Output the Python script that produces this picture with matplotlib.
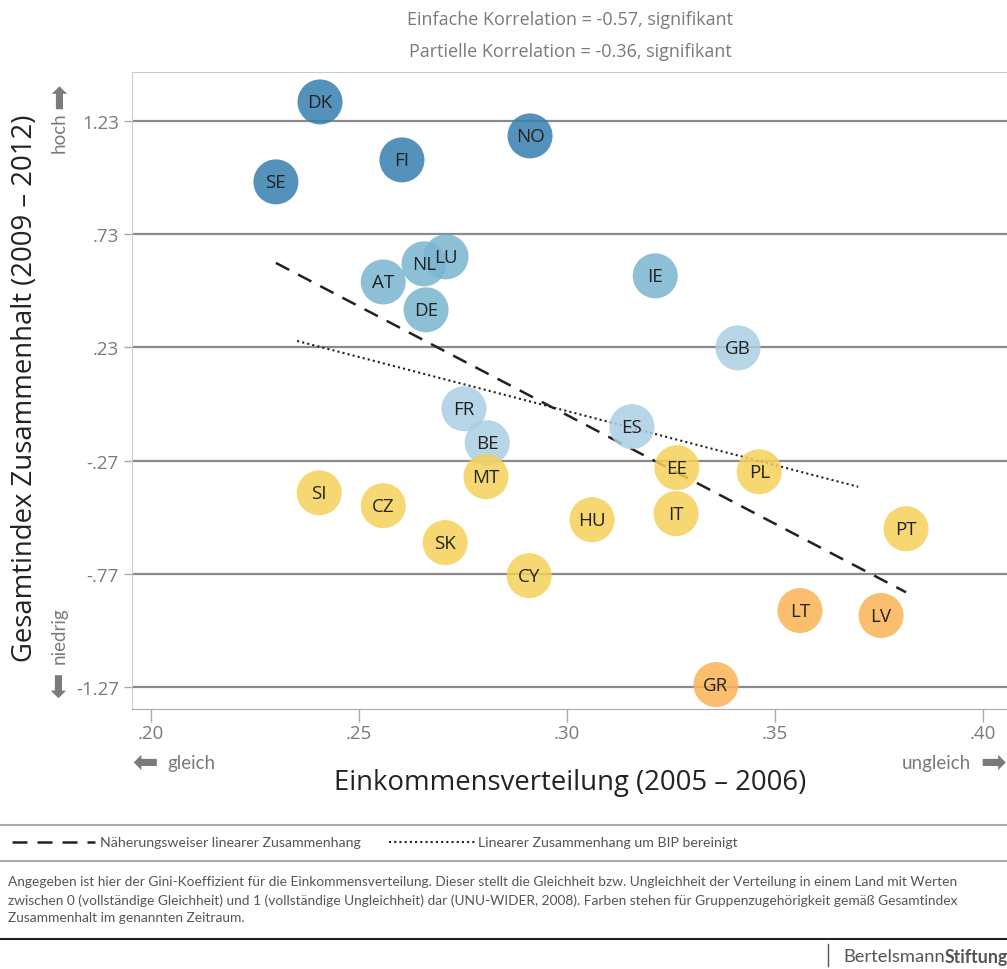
import matplotlib
matplotlib.use("Agg")
import matplotlib.pyplot as plt
from matplotlib.lines import Line2D

# Ländercodes, Gini-Koeffizient (x) und Gesamtindex Zusammenhalt (y)
laender = ['DK', 'NO', 'FI', 'SE', 'NL', 'LU', 'AT', 'DE', 'IE',
           'GB', 'FR', 'BE', 'ES',
           'EE', 'PL', 'MT', 'SI', 'CZ', 'SK', 'HU', 'IT', 'PT', 'CY',
           'LT', 'LV', 'GR']
gini = [0.2406, 0.2911, 0.2603, 0.2300, 0.2656, 0.2709, 0.2558, 0.2661, 0.3212,
        0.3411, 0.2752, 0.2808, 0.3156,
        0.3264, 0.3462, 0.2805, 0.2404, 0.2558, 0.2707, 0.3060, 0.3262, 0.3815, 0.2909,
        0.3560, 0.3755, 0.3358]
zusammenhalt = [1.314, 1.164, 1.058, 0.961, 0.599, 0.630, 0.519, 0.396, 0.546,
                0.228, -0.041, -0.191, -0.120,
                -0.301, -0.319, -0.341, -0.412, -0.469, -0.632, -0.531, -0.504, -0.571, -0.778,
                -0.932, -0.954, -1.259]
gruppe = [0, 0, 0, 0, 1, 1, 1, 1, 1,
          2, 2, 2, 2,
          3, 3, 3, 3, 3, 3, 3, 3, 3, 3,
          4, 4, 4]
gruppen_farben = ['#377faf', '#79b5cf', '#a9cee2', '#f5d059', '#fab355']

# Regressionslinien: (x_start, x_ende, achsenabschnitt, steigung)
linie_einfach = (0.2300, 0.3815, 2.811, -9.60)
linie_partiell = (0.2351, 0.3700, 1.381, -4.774)

yticks = [1.23, 0.73, 0.23, -0.27, -0.77, -1.27]
ytick_labels = ['1.23', '.73', '.23', '-.27', '-.77', '-1.27']
xticks = [0.20, 0.25, 0.30, 0.35, 0.40]
xtick_labels = ['.20', '.25', '.30', '.35', '.40']

schrift = ['Open Sans', 'DejaVu Sans']
schmal = ['Lato', 'DejaVu Sans']
plt.rcParams['font.family'] = schrift
grau = '#7a7a7a'

fig = plt.figure(figsize=(10.07, 9.70), dpi=100)
ax = fig.add_axes([0.1311, 0.268, 0.869, 0.6567])
ax.set_xlim(0.1954, 0.4058)
ax.set_ylim(-1.367, 1.446)

for yt in yticks:
    ax.axhline(yt, color='#8a8a8a', lw=1.6, zorder=1)

x0, x1, a, b = linie_einfach
ax.plot([x0, x1], [a + b * x0, a + b * x1], color='#222222', lw=1.8,
        dashes=(6, 4), zorder=2)
x0, x1, a, b = linie_partiell
ax.plot([x0, x1], [a + b * x0, a + b * x1], color='#222222', lw=1.5,
        dashes=(1, 1.5), zorder=2)

farben = [gruppen_farben[g] for g in gruppe]
ax.scatter(gini, zusammenhalt, s=1050, c=farben, alpha=0.85, edgecolors='none', zorder=3)
for l, x, y in zip(laender, gini, zusammenhalt):
    ax.text(x, y, l, ha='center', va='center', fontsize=13.5, color='#222222', zorder=5)

ax.set_yticks(yticks)
ax.set_yticklabels(ytick_labels)
ax.set_xticks(xticks)
ax.set_xticklabels(xtick_labels)
ax.tick_params(axis='both', colors='#aaaaaa', labelcolor=grau, labelsize=13.5, length=6, width=1)
ax.tick_params(axis='x', length=9, pad=2)
for s in ['left', 'top']:
    ax.spines[s].set_color('#cccccc')
ax.spines['right'].set_visible(False)
ax.spines['bottom'].set_color('#aaaaaa')

# Achsentitel
fig.text(0.025, 0.6, 'Gesamtindex Zusammenhalt (2009 – 2012)', rotation=90, ha='center',
         va='center', fontsize=19.8, color='#222222')
fig.text(0.566, 0.193, 'Einkommensverteilung (2005 – 2006)', ha='center', va='center',
         fontsize=19.8, color='#222222')

# Richtungshinweise
pfeil_schrift = ['Lato', 'DejaVu Sans']
fig.text(0.059, 0.863, 'hoch', rotation=90, ha='center', va='center', fontsize=13.5,
         color=grau, family=pfeil_schrift)
fig.text(0.059, 0.888, '➡', rotation=90, ha='center', va='bottom', fontsize=22,
         color=grau, family=pfeil_schrift)
fig.text(0.059, 0.345, 'niedrig', rotation=90, ha='center', va='center', fontsize=13.5,
         color=grau, family=pfeil_schrift)
fig.text(0.059, 0.307, '⬅', rotation=90, ha='center', va='top', fontsize=22,
         color=grau, family=pfeil_schrift)
fig.text(0.131, 0.214, '⬅', ha='left', va='center', fontsize=22, color=grau,
         family=pfeil_schrift)
fig.text(0.166, 0.213, 'gleich', ha='left', va='center', fontsize=13.5, color=grau,
         family=pfeil_schrift)
fig.text(0.999, 0.214, '➡', ha='right', va='center', fontsize=22, color=grau,
         family=pfeil_schrift)
fig.text(0.964, 0.213, 'ungleich', ha='right', va='center', fontsize=13.5, color=grau,
         family=pfeil_schrift)

# Titel
fig.text(0.566, 0.979, 'Einfache Korrelation = -0.57, signifikant', ha='center', va='center',
         fontsize=13, color=grau)
fig.text(0.566, 0.946, 'Partielle Korrelation = -0.36, signifikant', ha='center', va='center',
         fontsize=13, color=grau)

# Legende und Fußnote
fig.add_artist(Line2D([0, 1], [0.148, 0.148], color='#aaaaaa', lw=1.5))
fig.add_artist(Line2D([0.012, 0.094], [0.131, 0.131], color='#222222', lw=1.8, dashes=(6, 4)))
fig.text(0.099, 0.131, 'Näherungsweiser linearer Zusammenhang', ha='left', va='center',
         fontsize=10.2, color='#555555', family=schmal)
fig.add_artist(Line2D([0.386, 0.472], [0.131, 0.131], color='#222222', lw=1.5, dashes=(1, 1.5)))
fig.text(0.475, 0.131, 'Linearer Zusammenhang um BIP bereinigt', ha='left', va='center',
         fontsize=10.2, color='#555555', family=schmal)
fig.add_artist(Line2D([0, 1], [0.111, 0.111], color='#aaaaaa', lw=1.5))
fussnote = ('Angegeben ist hier der Gini-Koeffizient für die Einkommensverteilung. Dieser stellt die '
            'Gleichheit bzw. Ungleichheit der Verteilung in einem Land mit Werten\n'
            'zwischen 0 (vollständige Gleichheit) und 1 (vollständige Ungleichheit) dar '
            '(UNU-WIDER, 2008). Farben stehen für Gruppenzugehörigkeit gemäß Gesamtindex\n'
            'Zusammenhalt im genannten Zeitraum.')
fig.text(0.008, 0.072, fussnote, ha='left', va='center', fontsize=9.95, color='#555555',
         linespacing=1.55, family=schmal)
fig.add_artist(Line2D([0, 1], [0.031, 0.031], color='#222222', lw=1.5))
fig.add_artist(Line2D([0.822, 0.822], [0.003, 0.026], color='#555555', lw=1))
fig.text(0.9384, 0.013, 'Bertelsmann', ha='right', va='center', fontsize=13.2, color='#555555',
         family=schmal)
fig.text(0.9384, 0.013, 'Stiftung', ha='left', va='center', fontsize=12.8, color='#555555',
         weight='bold', family=schmal)

fig.savefig('out.png', dpi=100)
